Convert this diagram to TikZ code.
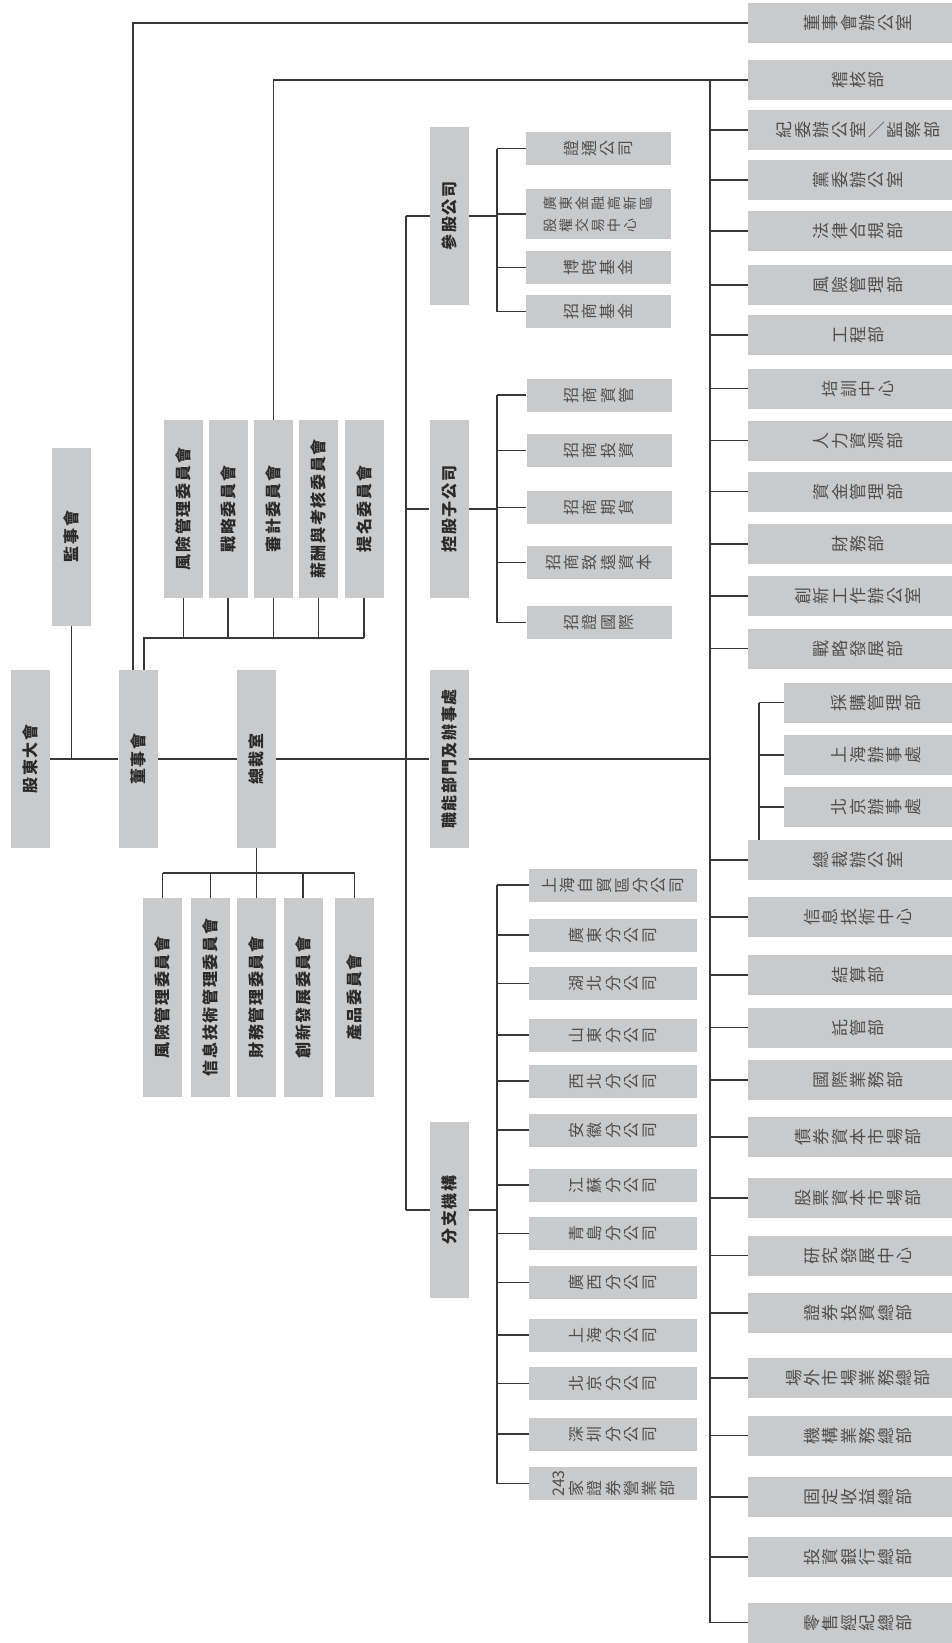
\documentclass[tikz,border=0pt]{standalone}
\usepackage{fontspec}
\usepackage{graphicx}
\newfontfamily\cjk{Noto Sans CJK TC}
\definecolor{boxgray}{HTML}{C9CACC}
\definecolor{linec}{HTML}{383838}
\definecolor{txtdark}{HTML}{2A2A2A}
\definecolor{txtlight}{HTML}{4E4E4E}
\newlength\lsk
\def\rcend{\relax}
\newcommand\spc[1]{\spcA#1\relax}
\def\spcA#1{\def\rctmp{#1}\ifx\rctmp\rcend\else\kern\lsk#1\kern\lsk\expandafter\spcA\fi}
\newcommand\rc[1]{\rcA#1\relax}
\def\rcA#1{\def\rctmp{#1}\ifx\rctmp\rcend\else\kern\lsk\rotatebox{90}{\raisebox{0pt}[.88em][.12em]{#1}}\kern\lsk\expandafter\rcA\fi}
\newcommand\tv[1]{\rotatebox{90}{\spc{#1}}}
\tikzset{
  tallbox/.style={fill=boxgray, inner sep=0pt, minimum width=39pt, minimum height=178pt, text=txtdark,
    font=\cjk\bfseries\fontsize{16}{18}\selectfont\setlength\lsk{.85pt}},
  widebox/.style={fill=boxgray, inner sep=0pt, minimum width=220pt, minimum height=40pt, text=txtlight,
    font=\cjk\fontsize{17}{18}\selectfont\setlength\lsk{.7pt}},
  subbox/.style={fill=boxgray, inner sep=0pt, minimum width=184pt, minimum height=40pt, text=txtlight,
    font=\cjk\fontsize{17}{18}\selectfont\setlength\lsk{.7pt}},
  midbox/.style={fill=boxgray, inner sep=0pt, minimum width=145pt, minimum height=33pt, text=txtlight,
    font=\cjk\fontsize{16}{22}\selectfont\setlength\lsk{1.1pt}},
  brbox/.style={fill=boxgray, inner sep=0pt, minimum width=168pt, minimum height=33pt, text=txtlight,
    font=\cjk\fontsize{16}{18}\selectfont\setlength\lsk{1.05pt}},
  ln/.style={draw=linec, line width=1.1pt}
}
\begin{document}
\begin{tikzpicture}[x=1pt,y=-1pt]
\fill[white] (0,0) rectangle (952,1643);
\path[use as bounding box] (0,0) rectangle (952,1643);

% left tall boxes
\node[tallbox] (gd)  at (30,759)   {\tv{股東大會}};
\node[tallbox] (jsh) at (71.5,536.5) {\tv{監事會}};
\node[tallbox] (dsh) at (138,759)  {\tv{董事會}};
\node[tallbox] (zcs) at (256.5,759) {\tv{總裁室}};

% board committees
\node[tallbox] (u1) at (183.5,509) {\tv{風險管理委員會}};
\node[tallbox] (u2) at (228,509)   {\tv{戰略委員會}};
\node[tallbox] (u3) at (273.5,509) {\tv{審計委員會}};
\node[tallbox] (u4) at (318.5,509) {\tv{薪酬與考核委員會}};
\node[tallbox] (u5) at (364,509)   {\tv{提名委員會}};

% management committees
\node[tallbox, minimum height=199pt] (l1) at (162.5,997.5) {\tv{風險管理委員會}};
\node[tallbox, minimum height=199pt] (l2) at (210.5,997.5) {\tv{信息技術管理委員會}};
\node[tallbox, minimum height=199pt] (l3) at (256.5,997.5) {\tv{財務管理委員會}};
\node[tallbox, minimum height=199pt] (l4) at (303,997.5)   {\tv{創新發展委員會}};
\node[tallbox, minimum height=199pt] (l5) at (354.5,997.5) {\tv{產品委員會}};

% middle column
\node[tallbox] (cg) at (449.5,216) {\tv{參股公司}};
\node[tallbox] (kg) at (449,509)   {\tv{控股子公司}};
\node[tallbox] (zn) at (449,759)   {\tv{職能部門及辦事處}};
\node[tallbox, minimum height=176pt] (fz) at (449.5,1210) {\tv{分支機構}};

% associated companies
\node[midbox] (p1) at (598.5,148.5) {\rc{證通公司}};
\node[midbox, minimum height=50pt, align=left, font=\cjk\fontsize{14}{22}\selectfont\setlength\lsk{1pt}] (p2) at (598.5,214) {\rc{廣東金融高新區}\\\rc{股權交易中心}};
\node[midbox] (p3) at (598.5,267.5) {\rc{博時基金}};
\node[midbox] (p4) at (598.5,311.5) {\rc{招商基金}};

% subsidiaries
\node[midbox] (k1) at (599,395)   {\rc{招商資管}};
\node[midbox] (k2) at (599,450.5) {\rc{招商投資}};
\node[midbox] (k3) at (599,507.5) {\rc{招商期貨}};
\node[midbox] (k4) at (599,562.5) {\rc{招商致遠資本}};
\node[midbox] (k5) at (599,622.5) {\rc{招證國際}};

% branches
\node[brbox] (b1)  at (613,885)    {\rc{上海自貿區分公司}};
\node[brbox] (b2)  at (613,935)    {\rc{廣東分公司}};
\node[brbox] (b3)  at (613,983.5)  {\rc{湖北分公司}};
\node[brbox] (b4)  at (613,1035)   {\rc{山東分公司}};
\node[brbox] (b5)  at (613,1081)   {\rc{西北分公司}};
\node[brbox] (b6)  at (613,1130)   {\rc{安徽分公司}};
\node[brbox] (b7)  at (613,1185)   {\rc{江蘇分公司}};
\node[brbox] (b8)  at (613,1233.5) {\rc{青島分公司}};
\node[brbox] (b9)  at (613,1282.5) {\rc{廣西分公司}};
\node[brbox] (b10) at (613,1335)   {\rc{上海分公司}};
\node[brbox] (b11) at (613,1383.5) {\rc{北京分公司}};
\node[brbox] (b12) at (613,1434)   {\rc{深圳分公司}};
\node[brbox] (b13) at (613,1483.5) {\rc{{243}家證券營業部}};

% right column
\node[widebox] (r1)  at (858,23)    {\rc{董事會辦公室}};
\node[widebox] (r2)  at (858,80)    {\rc{稽核部}};
\node[widebox] (r3)  at (858,130)   {\rc{紀委辦公室}\kern\lsk\raisebox{.12em}{／}\kern\lsk\rc{監察部}};
\node[widebox] (r4)  at (858,180)   {\rc{黨委辦公室}};
\node[widebox] (r5)  at (858,231)   {\rc{法律合規部}};
\node[widebox] (r6)  at (858,285)   {\rc{風險管理部}};
\node[widebox] (r7)  at (858,335)   {\rc{工程部}};
\node[widebox] (r8)  at (858,388.5) {\rc{培訓中心}};
\node[widebox] (r9)  at (858,440.5) {\rc{人力資源部}};
\node[widebox] (r10) at (858,491.5) {\rc{資金管理部}};
\node[widebox] (r11) at (858,544)   {\rc{財務部}};
\node[widebox] (r12) at (858,596)   {\rc{創新工作辦公室}};
\node[widebox] (r13) at (858,648.5) {\rc{戰略發展部}};
\node[subbox]  (s1)  at (876,702.5) {\rc{採購管理部}};
\node[subbox]  (s2)  at (876,755)   {\rc{上海辦事處}};
\node[subbox]  (s3)  at (876,807)   {\rc{北京辦事處}};
\node[widebox] (r14) at (858,860)   {\rc{總裁辦公室}};
\node[widebox] (r15) at (858,917)   {\rc{信息技術中心}};
\node[widebox] (r16) at (858,975)   {\rc{結算部}};
\node[widebox] (r17) at (858,1027.5){\rc{託管部}};
\node[widebox] (r18) at (858,1080)  {\rc{國際業務部}};
\node[widebox] (r19) at (858,1137)  {\rc{債券資本市場部}};
\node[widebox] (r20) at (858,1198)  {\rc{股票資本市場部}};
\node[widebox] (r21) at (858,1255.5){\rc{研究發展中心}};
\node[widebox] (r22) at (858,1313)  {\rc{證券投資總部}};
\node[widebox] (r23) at (858,1378)  {\rc{場外市場業務總部}};
\node[widebox] (r24) at (858,1435.5){\rc{機構業務總部}};
\node[widebox] (r25) at (858,1497)  {\rc{固定收益總部}};
\node[widebox] (r26) at (858,1557)  {\rc{投資銀行總部}};
\node[widebox] (r27) at (858,1622.5){\rc{零售經紀總部}};

% helper coordinates
\coordinate (busR) at (710,80);
\coordinate (busS) at (759,0);
\coordinate (ucb)  at (144,638);
\coordinate (lcb)  at (0,873);
\coordinate (tr)   at (406,0);
\coordinate (bm)   at (497,0);

% main spine
\draw[ln] (gd) -- (dsh);
\draw[ln] (jsh.south) -- (jsh.south |- gd.east);
\draw[ln] (dsh) -- (zcs);
\draw[ln] (zcs) -- (zn);
\draw[ln] (zn.east) -- (zn.east -| busR);

% top lines
\draw[ln] ([xshift=-5pt]dsh.north) |- (r1.west);
\draw[ln] (u3.north) |- (r2.west);

% right bus
\draw[ln] (busR) -- (busR |- r27.west);
\foreach \r in {r3,r4,r5,r6,r7,r8,r9,r10,r11,r12,r13,r14,r15,r16,r17,r18,r19,r20,r21,r22,r23,r24,r25,r26,r27}
  \draw[ln] (\r.west -| busR) -- (\r.west);
\draw[ln] (s1.west -| busS) -- (r14.north -| busS);
\foreach \s in {s1,s2,s3}
  \draw[ln] (\s.west -| busS) -- (\s.west);

% board committees
\draw[ln] (dsh.north -| ucb) -- (ucb) -- (ucb -| u5.south);
\foreach \u in {u1,u2,u3,u4,u5}
  \draw[ln] (\u.south) -- (\u.south |- ucb);

% management committees
\draw[ln] (zcs.south) -- (zcs.south |- lcb);
\draw[ln] (l1.north |- lcb) -- (l5.north |- lcb);
\foreach \l in {l1,l2,l3,l4,l5}
  \draw[ln] (\l.north) -- (\l.north |- lcb);

% middle trunk
\draw[ln] (tr |- cg.west) -- (tr |- fz.west);
\draw[ln] (tr |- cg.west) -- (cg.west);
\draw[ln] (tr |- kg.west) -- (kg.west);
\draw[ln] (tr |- fz.west) -- (fz.west);

% associated companies
\draw[ln] (cg.east) -- (cg.east -| bm);
\draw[ln] (bm |- p1.west) -- (bm |- p4.west);
\foreach \p in {p1,p2,p3,p4}
  \draw[ln] (\p.west -| bm) -- (\p.west);

% subsidiaries
\draw[ln] (kg.east) -- (kg.east -| bm);
\draw[ln] (bm |- k1.west) -- (bm |- k5.west);
\foreach \k in {k1,k2,k3,k4,k5}
  \draw[ln] (\k.west -| bm) -- (\k.west);

% branches
\draw[ln] (fz.east) -- (fz.east -| bm);
\draw[ln] (bm |- b1.west) -- (bm |- b13.west);
\foreach \b in {b1,b2,b3,b4,b5,b6,b7,b8,b9,b10,b11,b12,b13}
  \draw[ln] (\b.west -| bm) -- (\b.west);
\end{tikzpicture}
\end{document}
